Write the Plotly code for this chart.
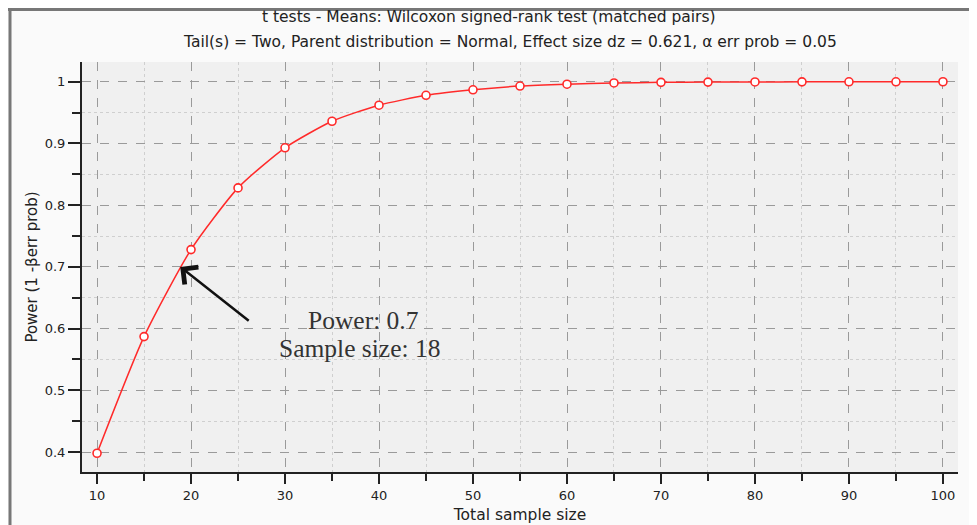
import plotly.graph_objects as go

sample_size = [10, 15, 20, 25, 30, 35, 40, 45, 50, 55, 60, 65, 70, 75, 80, 85, 90, 95, 100]
power = [0.398, 0.587, 0.728, 0.828, 0.893, 0.936, 0.962, 0.978, 0.987, 0.993, 0.996,
         0.998, 0.999, 0.9994, 0.9997, 0.9998, 0.9999, 0.99995, 0.99998]

title_1 = "t tests - Means: Wilcoxon signed-rank test (matched pairs)"
title_2 = "Tail(s) = Two, Parent distribution = Normal, Effect size dz = 0.621, \u03b1 err prob = 0.05"
note_line_1 = "Power: 0.7"
note_line_2 = "Sample size: 18"
arrow_x, arrow_y = 18.85, 0.7

# page body has an 8px margin; figure occupies the rest of the 977x525 window
OFF = 8
W, H = 977 - OFF, 525 - OFF
L, T = 82 - OFF, 62 - OFF
R = W - (958 - OFF)
B = H - (472 - OFF)
pw, ph = W - L - R, H - T - B

def px(xp):
    return (xp - OFF - L) / pw

def py(yp):
    return 1 - (yp - OFF - T) / ph

fig = go.Figure()
fig.add_trace(go.Scatter(
    x=sample_size, y=power, mode="lines+markers",
    line=dict(color="#ff2a2a", width=1.5, shape="spline", smoothing=0.6),
    marker=dict(symbol="circle", size=8, color="white",
                line=dict(color="#ff2a2a", width=1.6)),
    showlegend=False, hoverinfo="x+y"))

sans = "DejaVu Sans, Verdana, sans-serif"
serif = "Liberation Serif, Times New Roman, serif"
fig.update_layout(
    width=W, height=H,
    margin=dict(l=L, r=R, t=T, b=B, pad=0, autoexpand=False),
    paper_bgcolor="#fafafa", plot_bgcolor="#f0f0f0",
    font=dict(family=sans, size=13, color="#222"),
    xaxis=dict(range=[8.4, 101.6], tickvals=list(range(10, 101, 10)), automargin=False,
               showline=True, linecolor="#222", linewidth=2,
               ticks="outside", ticklen=10, tickwidth=2, tickcolor="#222",
               showgrid=True, gridcolor="#9a9a9a", griddash="dash", gridwidth=1,
               zeroline=False,
               minor=dict(tickvals=list(range(15, 100, 10)), ticks="outside", ticklen=7,
                          tickwidth=2, tickcolor="#222", showgrid=True,
                          gridcolor="#cfcfcf", griddash="dot", gridwidth=1),
               tickfont=dict(size=13, color="#222"),
               title=dict(text="Total sample size", font=dict(size=15.5, color="#222"), standoff=8)),
    yaxis=dict(range=[0.3676, 1.032], tickvals=[0.4, 0.5, 0.6, 0.7, 0.8, 0.9, 1.0], automargin=False,
               ticktext=["0.4", "0.5", "0.6", "0.7", "0.8", "0.9", "1"],
               showline=True, linecolor="#222", linewidth=2,
               ticks="outside", ticklen=12, tickwidth=2, tickcolor="#222",
               showgrid=True, gridcolor="#9a9a9a", griddash="dash", gridwidth=1,
               zeroline=False,
               minor=dict(tickvals=[0.45, 0.55, 0.65, 0.75, 0.85, 0.95], ticks="outside",
                          ticklen=8, tickwidth=2, tickcolor="#222", showgrid=True,
                          gridcolor="#cfcfcf", griddash="dot", gridwidth=1),
               tickfont=dict(size=13, color="#222"),
               title=dict(text="Power (1 -\u03b2err prob)", font=dict(size=15, color="#222"), standoff=3)),
    shapes=[
        dict(type="line", xref="paper", yref="paper", x0=px(8), x1=px(977), y0=py(9.5), y1=py(9.5),
             line=dict(color="#777", width=3)),
        dict(type="line", xref="paper", yref="paper", x0=px(10), x1=px(10), y0=py(8), y1=py(525),
             line=dict(color="#777", width=3)),
    ],
    annotations=[
        dict(text=title_1, xref="paper", yref="paper", x=px(489), y=py(17), showarrow=False,
             xanchor="center", yanchor="middle", font=dict(family=sans, size=15.5, color="#222")),
        dict(text=title_2, xref="paper", yref="paper", x=px(510), y=py(42), showarrow=False,
             xanchor="center", yanchor="middle", font=dict(family=sans, size=15.5, color="#222")),
        dict(x=arrow_x, y=arrow_y, xref="x", yref="y", ax=70, ay=55, axref="pixel", ayref="pixel",
             showarrow=True, arrowhead=4, arrowsize=1.7, arrowwidth=2.5, arrowcolor="#111", text=""),
        dict(text=note_line_1, xref="paper", yref="paper", x=px(363), y=py(320), showarrow=False,
             xanchor="center", yanchor="middle", font=dict(family=serif, size=25.5, color="#333")),
        dict(text=note_line_2, xref="paper", yref="paper", x=px(359.5), y=py(348), showarrow=False,
             xanchor="center", yanchor="middle", font=dict(family=serif, size=25.5, color="#333")),
    ],
)

fig.write_html("out.html")
